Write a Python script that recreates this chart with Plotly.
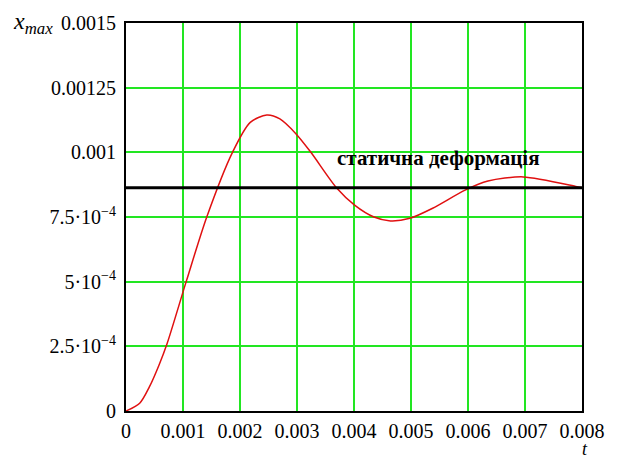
import plotly.graph_objects as go

# Curve values (time t, displacement x_max)
t_vals = [0.0, 0.00024, 0.00041, 0.00058, 0.00072, 0.00106, 0.00142, 0.00187,
          0.00218, 0.00247, 0.00270, 0.00298, 0.00324, 0.00370, 0.00401,
          0.00435, 0.00464, 0.00498, 0.00538, 0.00595, 0.00635, 0.00697,
          0.00791, 0.008]
x_vals = [0.0, 0.000030, 0.000093, 0.000178, 0.000260, 0.000503, 0.000752, 0.001001,
          0.001116, 0.001144, 0.001129, 0.001072, 0.001001, 0.000861, 0.000796,
          0.000750, 0.000735, 0.000745, 0.000784, 0.000854, 0.000889, 0.000905,
          0.000867, 0.000863]

static_level = 0.000863
static_label = "статична деформація"

x_tickvals = [0, 0.001, 0.002, 0.003, 0.004, 0.005, 0.006, 0.007, 0.008]
x_ticktext = ["0", "0.001", "0.002", "0.003", "0.004", "0.005", "0.006", "0.007", "0.008"]
y_tickvals = [0, 0.00025, 0.0005, 0.00075, 0.001, 0.00125, 0.0015]
y_ticktext = ["0", "2.5·10<sup>−4</sup>", "5·10<sup>−4</sup>", "7.5·10<sup>−4</sup>",
              "0.001", "0.00125", "0.0015"]

font_family = "Liberation Serif"
grid_color = "#22e622"

fig = go.Figure()
fig.add_trace(go.Scatter(
    x=t_vals, y=x_vals, mode="lines",
    line=dict(color="#e01010", width=1.5, shape="spline", smoothing=0.8),
    showlegend=False, hoverinfo="skip"))
fig.add_trace(go.Scatter(
    x=[0, 0.008], y=[static_level, static_level], mode="lines",
    line=dict(color="black", width=3), showlegend=False, hoverinfo="skip"))

fig.add_annotation(x=0.00549, y=0.000978, xref="x", yref="y", text="<b>" + static_label + "</b>",
                   showarrow=False, xanchor="center", yanchor="middle",
                   font=dict(family=font_family, size=21, color="black"))
fig.add_annotation(x=0, y=1.0, xref="paper", yref="paper", xshift=-93, yshift=0,
                   xanchor="center", yanchor="middle",
                   text="<i>x</i><sub><i>max</i></sub>", showarrow=False,
                   font=dict(family=font_family, size=24, color="black"))
fig.add_annotation(x=1.0, y=0, xref="paper", yref="paper", xshift=3, yshift=-38,
                   xanchor="center", yanchor="middle",
                   text="<i>t</i>", showarrow=False,
                   font=dict(family=font_family, size=18, color="black"))

fig.update_layout(
    width=617, height=459,
    margin=dict(l=126, r=24, t=20, b=48),
    paper_bgcolor="white", plot_bgcolor="white",
    font=dict(family=font_family, size=20, color="black"),
    xaxis=dict(range=[0, 0.008], tickvals=x_tickvals, ticktext=x_ticktext,
               showgrid=True, gridcolor=grid_color, gridwidth=2,
               showline=True, linecolor="black", linewidth=2, mirror=True,
               ticks="", zeroline=False, ticklabelstandoff=1,
               tickfont=dict(size=20, family=font_family)),
    yaxis=dict(range=[0, 0.0015], tickvals=y_tickvals, ticktext=y_ticktext,
               showgrid=True, gridcolor=grid_color, gridwidth=2,
               showline=True, linecolor="black", linewidth=2, mirror=True,
               ticks="", zeroline=False, ticklabelstandoff=4,
               tickfont=dict(size=20, family=font_family)),
)

fig.write_html("out.html", config={"displayModeBar": False},
               post_script="document.body.style.margin='0px';")
